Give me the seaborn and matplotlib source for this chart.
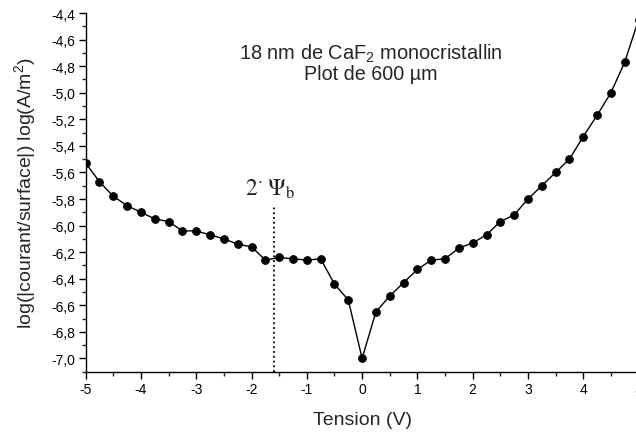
import matplotlib

matplotlib.use("Agg")
import matplotlib.pyplot as plt
import seaborn as sns
from matplotlib.ticker import FuncFormatter, MultipleLocator

# Tension (V) et log(|J|)
tension = [
    -5.00, -4.75, -4.50, -4.25, -4.00, -3.75, -3.50, -3.25, -3.00, -2.75,
    -2.50, -2.25, -2.00, -1.75, -1.50, -1.25, -1.00, -0.75, -0.50, -0.25,
    0.00, 0.25, 0.50, 0.75, 1.00, 1.25, 1.50, 1.75, 2.00, 2.25,
    2.50, 2.75, 3.00, 3.25, 3.50, 3.75, 4.00, 4.25, 4.50, 4.75, 5.00,
]
log_j = [
    -5.53, -5.67, -5.78, -5.85, -5.90, -5.95, -5.97, -6.04, -6.04, -6.07,
    -6.10, -6.14, -6.16, -6.26, -6.24, -6.25, -6.26, -6.25, -6.44, -6.56,
    -7.00, -6.65, -6.53, -6.43, -6.33, -6.26, -6.25, -6.17, -6.13, -6.07,
    -5.97, -5.92, -5.80, -5.70, -5.60, -5.50, -5.33, -5.17, -5.00, -4.77, -4.45,
]

psi_b_x = -1.6
psi_b_top = -5.86

titre = [r"18 nm de CaF$_2$ monocristallin", "Plot de 600 µm"]

sns.set_theme(style="ticks")
plt.rcParams["font.family"] = ["Liberation Sans", "DejaVu Sans"]
plt.rcParams["mathtext.fontset"] = "custom"
plt.rcParams["mathtext.rm"] = "Liberation Sans"
plt.rcParams["mathtext.it"] = "Liberation Sans:italic"

fig = plt.figure(figsize=(6.36, 4.35), dpi=100)
ax = fig.add_axes([0.1347, 0.1432, 0.8693, 0.8246])

sns.lineplot(
    x=tension,
    y=log_j,
    color="black",
    linewidth=1.0,
    marker="o",
    markersize=5.5,
    markeredgecolor="black",
    errorbar=None,
    ax=ax,
)

ax.plot([psi_b_x, psi_b_x], [-7.1, psi_b_top], color="black", linestyle=":", linewidth=1.3)
ax.text(psi_b_x - 0.07, psi_b_top + 0.09, r"$\mathrm{2^{\cdot}\;\Psi_b}$", fontsize=17,
        math_fontfamily="stix", ha="center", va="baseline")

ax.text(0.15, -4.741, titre[0], fontsize=14.4, ha="center", va="baseline")
ax.text(0.15, -4.897, titre[1], fontsize=14.2, ha="center", va="baseline")

ax.set_xlim(-5, 5)
ax.set_ylim(-7.1, -4.4)
ax.xaxis.set_major_locator(MultipleLocator(1))
ax.xaxis.set_minor_locator(MultipleLocator(0.5))
ax.yaxis.set_major_locator(MultipleLocator(0.2))
ax.yaxis.set_minor_locator(MultipleLocator(0.1))
ax.xaxis.set_major_formatter(FuncFormatter(lambda v, p: f"{v:.0f}".replace("−", "-")))
ax.yaxis.set_major_formatter(FuncFormatter(lambda v, p: f"{v:.1f}".replace(".", ",")))

ax.tick_params(which="major", direction="out", length=4.7, width=1.0, labelsize=10, pad=2.5,
               colors="black")
ax.tick_params(which="minor", direction="out", length=2.6, width=1.0)

ax.set_xlabel("Tension (V)", fontsize=14, labelpad=11)
ax.set_ylabel("log(|courant/surface|) log(A/m$^2$)", fontsize=14, labelpad=10)

sns.despine(ax=ax)
for side in ["left", "bottom"]:
    ax.spines[side].set_linewidth(1.0)
    ax.spines[side].set_color("black")

fig.savefig("out.png", dpi=100)
